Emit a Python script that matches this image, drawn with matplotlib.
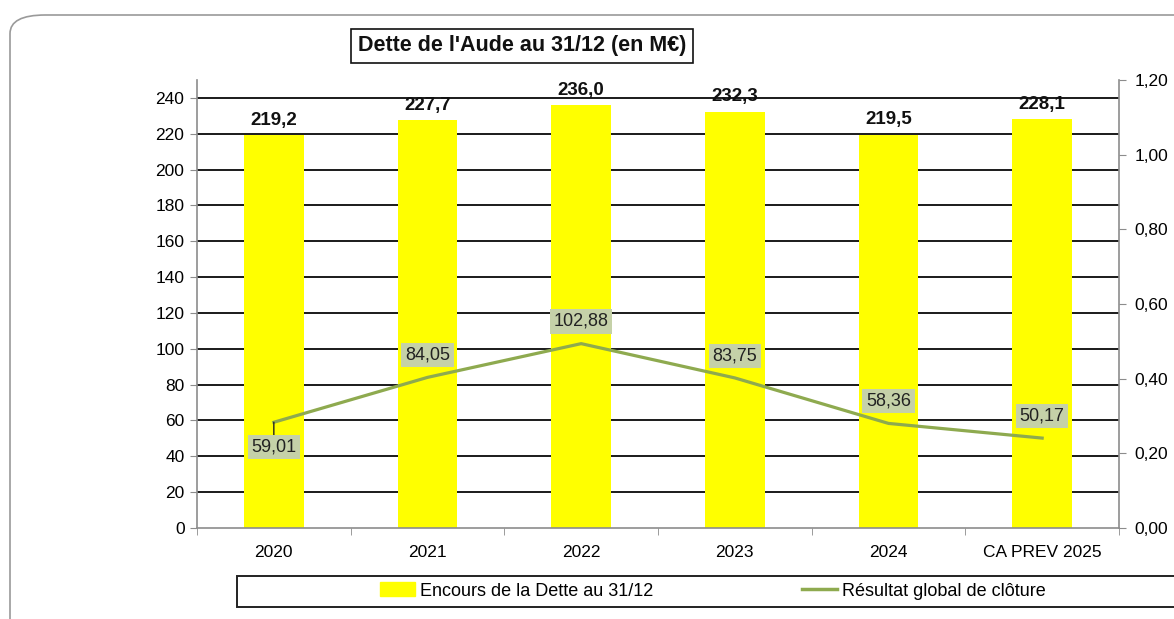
import matplotlib
matplotlib.use('Agg')
import matplotlib.pyplot as plt
import matplotlib.patches as mpatches
from matplotlib.lines import Line2D
from matplotlib.ticker import FuncFormatter

plt.rcParams['font.family'] = ['Liberation Sans', 'DejaVu Sans']

categories = ['2020', '2021', '2022', '2023', '2024', 'CA PREV 2025']
dette = [219.2, 227.7, 236.0, 232.3, 219.5, 228.1]
resultat = [59.01, 84.05, 102.88, 83.75, 58.36, 50.17]

bar_color = '#ffff00'
line_color = '#8eaa4f'
label_bg = '#c5d1a8'
axis_gray = '#8c8c8c'


def fr(v, nd):
    return ('{:.%df}' % nd).format(v).replace('.', ',')


fig = plt.figure(figsize=(11.74, 6.19), dpi=100)
ax = fig.add_axes([197 / 1174, 1 - 528 / 619, 922 / 1174, 448 / 619])

# rounded outer frame (cut by the image edges like the screenshot)
frame = mpatches.FancyBboxPatch((10 / 1174, -0.2), 1.2, 1 - 15 / 619 + 0.2,
                                boxstyle='round,pad=0,rounding_size=0.03',
                                transform=fig.transFigure, facecolor='none',
                                edgecolor='#9a9a9a', lw=1.2, clip_on=False)
fig.patches.append(frame)

x = list(range(len(categories)))
ax.bar(x, dette, width=0.39, color=bar_color, zorder=2)
ax.plot(x, resultat, color=line_color, lw=2.3, zorder=3)

ax.set_xlim(-0.5, len(categories) - 0.5)
ax.set_ylim(0, 250)
ax.set_yticks(range(0, 241, 20))

# horizontal grid lines behind bars
for y in range(20, 241, 20):
    ax.axhline(y, color='#1a1a1a', lw=1.4, zorder=1)

ax.set_xticks(x)
ax.set_xticklabels(categories, fontsize=12.5)
ax.set_xticks([i + 0.5 for i in range(-1, len(categories))], minor=True)
ax.tick_params(axis='x', which='major', length=0, pad=12)
ax.tick_params(axis='x', which='minor', length=5, color=axis_gray, direction='out')
ax.tick_params(axis='y', length=5, color=axis_gray, labelsize=12.5, pad=4)

for s in ['top', 'right']:
    ax.spines[s].set_visible(False)
for s in ['left', 'bottom']:
    ax.spines[s].set_color(axis_gray)
    ax.spines[s].set_linewidth(1.2)

# bar value labels
for xi, v in zip(x, dette):
    ax.annotate(fr(v, 1), (xi, v), xytext=(0, 4.5), textcoords='offset points',
                ha='center', va='bottom', fontsize=13.5, fontweight='bold', color='#111111', zorder=5)

# line value labels
for i, (xi, v) in enumerate(zip(x, resultat)):
    dy = -18 if i == 0 else 16
    kw = {}
    if i == 0:
        kw['arrowprops'] = dict(arrowstyle='-', color='#222222', lw=1, shrinkA=0, shrinkB=0)
    ax.annotate(fr(v, 2), (xi, v), xytext=(0, dy), textcoords='offset points',
                ha='center', va='center', fontsize=13, color='#222222', zorder=6,
                bbox=dict(boxstyle='square,pad=0.2', facecolor=label_bg, edgecolor='none'), **kw)

# secondary axis
ax2 = ax.twinx()
ax2.set_ylim(0, 1.2)
ax2.set_yticks([0, 0.2, 0.4, 0.6, 0.8, 1.0, 1.2])
ax2.yaxis.set_major_formatter(FuncFormatter(lambda v, p: fr(v, 2)))
ax2.tick_params(axis='y', length=5, color=axis_gray, labelsize=12.5, pad=6)
for s in ['top', 'left', 'bottom']:
    ax2.spines[s].set_visible(False)
ax2.spines['right'].set_color(axis_gray)
ax2.spines['right'].set_linewidth(1.2)

# title box
fig.text(522 / 1174, 1 - 46 / 619, "Dette de l'Aude au 31/12 (en M€)", ha='center', va='center',
         fontsize=15.5, fontweight='bold', color='#111111',
         bbox=dict(boxstyle='square,pad=0.3', facecolor='white', edgecolor='#111111', lw=1.2))

# legend box
leg_box = mpatches.Rectangle((237 / 1174, 1 - 607 / 619), 1.0, 31 / 619, transform=fig.transFigure,
                             facecolor='white', edgecolor='#222222', lw=1.4, clip_on=False)
fig.patches.append(leg_box)
handles = [mpatches.Patch(color=bar_color, label='Encours de la Dette au 31/12'),
           Line2D([0], [0], color=line_color, lw=2.5, label='Résultat global de clôture')]
fig.legend(handles=handles, loc='center left', bbox_to_anchor=(380 / 1174, 1 - 591 / 619),
           ncol=2, frameon=False, fontsize=13, handlelength=1.95, handleheight=0.8,
           handletextpad=0.28, columnspacing=8.2, borderpad=0, borderaxespad=0)

fig.savefig('out.png', dpi=100)
